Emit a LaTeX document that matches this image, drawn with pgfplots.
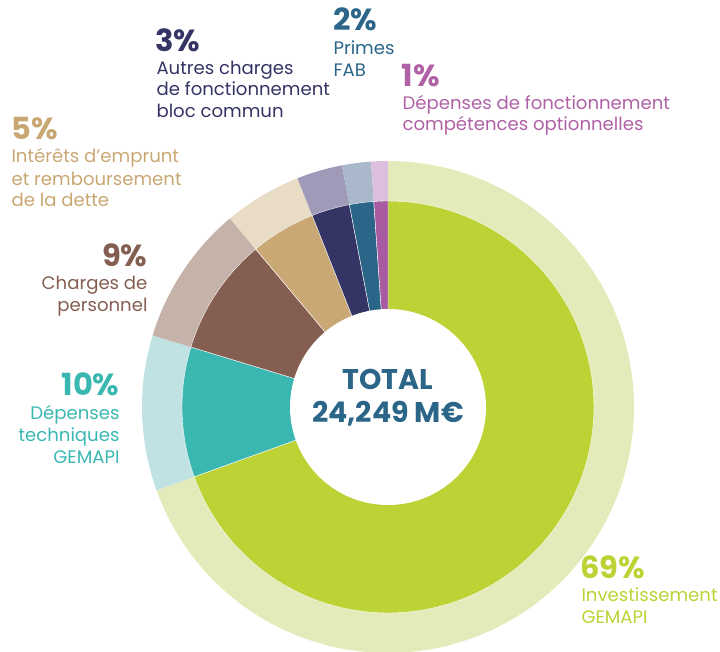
\documentclass[border=0pt]{standalone}
\usepackage{pgfplots}
\pgfplotsset{compat=1.18}
\usepackage{pgfplotstable}
\usepackage{fontspec}
\setmainfont{Poppins}

\definecolor{c0}{HTML}{BDD234}
\definecolor{c1}{HTML}{3BB7B1}
\definecolor{c2}{HTML}{845F51}
\definecolor{c3}{HTML}{C9A875}
\definecolor{c4}{HTML}{343465}
\definecolor{c5}{HTML}{2B6588}
\definecolor{c6}{HTML}{A85BA0}
\definecolor{p0}{HTML}{E3EBBA}
\definecolor{p1}{HTML}{C0E2E3}
\definecolor{p2}{HTML}{C5B2A8}
\definecolor{p3}{HTML}{E9DCC7}
\definecolor{p4}{HTML}{A09AB9}
\definecolor{p5}{HTML}{A9B9CB}
\definecolor{p6}{HTML}{DCBFDC}
\definecolor{t3}{HTML}{C9A772}
\definecolor{t6}{HTML}{B061A6}

\pgfplotstableread{
idx value
0 69.5
1 10.2
2 9.2
3 5.1
4 3.0
5 1.9
6 1.1
}\slices

\gdef\cum{90}
\foreach \i in {0,...,6}{%
  \pgfplotstablegetelem{\i}{value}\of\slices
  \pgfmathsetmacro\newcum{\cum-3.6*\pgfplotsretval}%
  \expandafter\xdef\csname s\i\endcsname{\cum}%
  \expandafter\xdef\csname e\i\endcsname{\newcum}%
  \xdef\cum{\newcum}%
}

\newcommand\pct{\bfseries\fontsize{30.5}{30.5}\selectfont}
\newcommand\tot{\bfseries\fontsize{28.5}{28.5}\selectfont}
\newcommand\lbl{\fontsize{18.1}{21}\selectfont}

\begin{document}
\begin{tikzpicture}
\begin{axis}[scale only axis, width=720pt, height=651pt,
  xmin=0, xmax=720, ymin=0, ymax=651, axis lines=none, clip=true,
  every node/.append style={inner sep=0pt}]
\pgfplotsinvokeforeach{0,...,6}{
  \addplot[draw=none, fill=p#1, domain=\csname e#1\endcsname:\csname s#1\endcsname, samples=120]
    ({388+246*cos(x)},{244+246*sin(x)}) -- (axis cs:388,244) -- cycle;
}
\pgfplotsinvokeforeach{0,...,6}{
  \addplot[draw=white, line width=0.4pt, fill=c#1, domain=\csname e#1\endcsname:\csname s#1\endcsname, samples=120]
    ({388+206*cos(x)},{244+206*sin(x)}) -- (axis cs:388,244) -- cycle;
}
\addplot[draw=none, fill=white, domain=0:360, samples=180]
  ({388+98*cos(x)},{244+98*sin(x)}) -- cycle;

% 3%
\node[anchor=base west, font=\pct, text=c4] at (axis cs:152,599) {3\%};
\node[anchor=base west, font=\lbl, text=c4] at (axis cs:153,576) {Autres charges};
\node[anchor=base west, font=\lbl, text=c4] at (axis cs:153,555) {de fonctionnement};
\node[anchor=base west, font=\lbl, text=c4] at (axis cs:153,533) {bloc commun};
% 2%
\node[anchor=base west, font=\pct, text=c5] at (axis cs:330,620) {2\%};
\node[anchor=base west, font=\lbl, text=c5] at (axis cs:330,596) {Primes};
\node[anchor=base west, font=\lbl, text=c5] at (axis cs:330,574) {FAB};
% 1%
\node[anchor=base west, font=\pct, text=t6] at (axis cs:398,564) {1\%};
\node[anchor=base west, font=\lbl, text=t6] at (axis cs:399,541) {Dépenses de fonctionnement};
\node[anchor=base west, font=\lbl, text=t6] at (axis cs:399,520) {compétences optionnelles};
% 5%
\node[anchor=base west, font=\pct, text=t3] at (axis cs:8,511) {5\%};
\node[anchor=base west, font=\lbl, text=t3] at (axis cs:8,488) {Intérêts d’emprunt};
\node[anchor=base west, font=\lbl, text=t3] at (axis cs:8,465) {et remboursement};
\node[anchor=base west, font=\lbl, text=t3] at (axis cs:8,444) {de la dette};
% 9%
\node[anchor=base east, font=\pct, text=c2] at (axis cs:151,384) {9\%};
\node[anchor=base east, font=\lbl, text=c2] at (axis cs:151,361) {Charges de};
\node[anchor=base east, font=\lbl, text=c2] at (axis cs:151,339) {personnel};
% 10%
\node[anchor=base east, font=\pct, text=c1] at (axis cs:123,255) {10\%};
\node[anchor=base east, font=\lbl, text=c1] at (axis cs:123,231) {Dépenses};
\node[anchor=base east, font=\lbl, text=c1] at (axis cs:123,209) {techniques};
\node[anchor=base east, font=\lbl, text=c1] at (axis cs:123,187) {GEMAPI};
% 69%
\node[anchor=base west, font=\pct, text=c0] at (axis cs:577,73) {69\%};
\node[anchor=base west, font=\lbl, text=c0] at (axis cs:578,50) {Investissement};
\node[anchor=base west, font=\lbl, text=c0] at (axis cs:578,28) {GEMAPI};
% total
\node[anchor=base, font=\tot, text=c5] at (axis cs:388,261) {TOTAL};
\node[anchor=base, font=\tot, text=c5] at (axis cs:388,228) {24,249 M€};
\coordinate (bl) at (rel axis cs:0,0);
\coordinate (tr) at (rel axis cs:1,1);
\end{axis}
\pgfresetboundingbox
\path[use as bounding box] (bl) rectangle (tr);
\end{tikzpicture}
\end{document}
